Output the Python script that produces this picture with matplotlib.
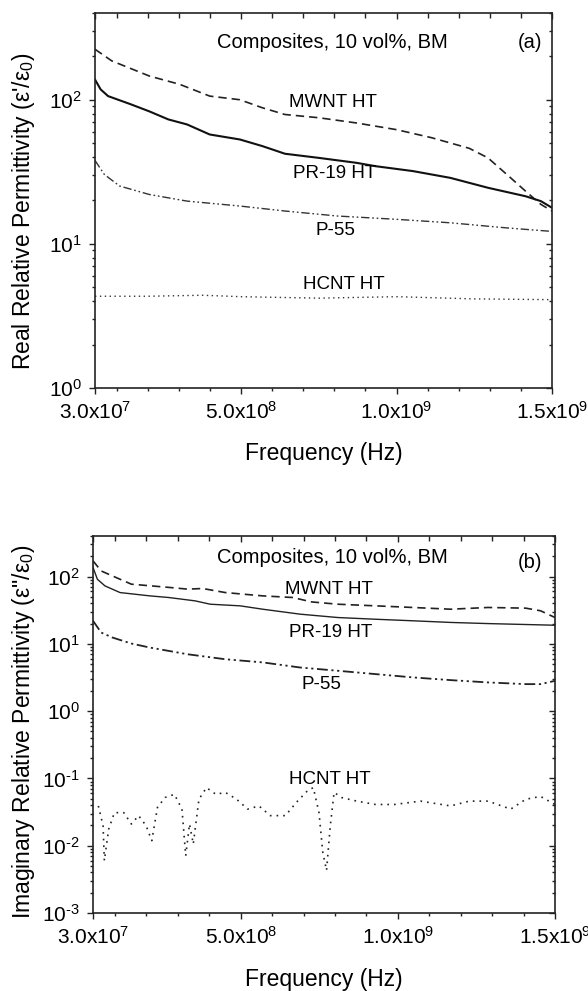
import math
import matplotlib
matplotlib.use("Agg")
import matplotlib.pyplot as plt
from matplotlib.ticker import MultipleLocator, LogLocator, NullFormatter, FuncFormatter

plt.rcParams['font.family'] = ['Liberation Sans', 'DejaVu Sans']
plt.rcParams['mathtext.fontset'] = 'custom'
plt.rcParams['mathtext.rm'] = 'Liberation Sans'
plt.rcParams['mathtext.it'] = 'Liberation Sans:italic'
plt.rcParams['axes.unicode_minus'] = False

# ---- panel (a): real relative permittivity, frequency in MHz ----
mwnt_a_f = [30, 84, 205, 302, 399, 496, 568, 641, 750, 871, 1000, 1113, 1234, 1294, 1367, 1415, 1464, 1500]
mwnt_a_v = [224, 186, 146, 128, 106, 100, 88, 79, 75, 69, 62, 54.5, 46, 39.5, 28.7, 23.2, 18.8, 16.9]

pr19_a_f = [30, 48, 72, 145, 205, 266, 326, 399, 496, 568, 641, 750, 871, 932, 1052, 1173, 1294, 1415, 1464, 1500]
pr19_a_v = [138, 118, 106, 93, 83, 73, 67.4, 57.4, 53, 47.7, 42.2, 39.5, 36.5, 34.6, 32, 28.7, 24.5, 21.4, 19.8, 17.8]

p55_a_f = [30, 60, 109, 205, 326, 496, 641, 810, 1000, 1173, 1355, 1500]
p55_a_v = [37.9, 30.3, 25.2, 22, 19.8, 18.3, 16.9, 15.6, 14.8, 14, 12.9, 12.2]

hcnt_a_f = [30, 200, 375, 500, 750, 1000, 1250, 1500]
hcnt_a_v = [4.33, 4.33, 4.4, 4.3, 4.2, 4.3, 4.15, 4.1]

# ---- panel (b): imaginary relative permittivity ----
mwnt_b_f = [30, 56, 92, 152, 271, 331, 379, 451, 570, 666, 725, 809, 929, 1048, 1168, 1287, 1407, 1454, 1500]
mwnt_b_v = [171, 121, 102, 77, 69, 65, 66.4, 57.8, 51.6, 48.8, 42, 38.8, 36.7, 34.7, 32.7, 34.7, 33.9, 31, 24.6]

pr19_b_f = [30, 44, 68, 116, 211, 271, 355, 403, 498, 570, 689, 809, 929, 1048, 1168, 1287, 1500]
pr19_b_v = [136, 91, 72.6, 57.8, 51.6, 48.8, 43.5, 38.8, 36.7, 32.7, 27.6, 24.6, 23.2, 22, 20.8, 20, 18.9]

p55_b_f = [30, 56, 92, 152, 211, 331, 451, 570, 689, 809, 929, 1048, 1168, 1287, 1407, 1454, 1500]
p55_b_v = [22, 14.7, 12.4, 10.1, 8.8, 7.0, 5.9, 5.3, 4.45, 3.98, 3.55, 3.17, 2.89, 2.67, 2.52, 2.52, 2.82]

hcnt_b_f = [47, 62, 66, 80, 98, 128, 152, 175, 199, 217, 235, 259, 289, 313, 325, 337, 349, 367, 391, 421,
            451, 487, 522, 558, 594, 642, 677, 713, 731, 749, 761, 773, 785, 797, 821, 869, 929, 989, 1072,
            1168, 1227, 1287, 1359, 1407, 1454, 1500]
hcnt_b_v = [0.039, 0.0198, 0.006, 0.0177, 0.031, 0.031, 0.021, 0.028, 0.0198, 0.0119, 0.037, 0.052, 0.058,
            0.035, 0.0071, 0.021, 0.0106, 0.049, 0.073, 0.058, 0.062, 0.049, 0.035, 0.039, 0.028, 0.028,
            0.044, 0.066, 0.073, 0.031, 0.008, 0.0043, 0.0198, 0.062, 0.052, 0.046, 0.041, 0.041, 0.046,
            0.039, 0.046, 0.046, 0.035, 0.049, 0.054, 0.041]

xticks = [3e7, 5e8, 1e9, 1.5e9]
xtick_labels = ['3.0x10$^{7}$', '5.0x10$^{8}$', '1.0x10$^{9}$', '1.5x10$^{9}$']

DASH = (5, 3)
DASHDOTDOT = (6, 2, 1.2, 2, 1.2, 2)
DOT = (1, 2.5)
INK = '#222222'


def hz(f):
    return [v * 1e6 for v in f]


def pow10_label(v, pos):
    e = int(round(math.log10(v)))
    if e < 0:
        return '10$^{\\text{-}%d}$' % (-e)
    return '10$^{%d}$' % e


def style_axes(ax, ylim, ylabel, label_xy):
    ax.set_yscale('log')
    ax.set_xlim(3e7, 1.5e9)
    ax.set_ylim(*ylim)
    ax.set_xticks(xticks)
    ax.set_xticklabels(xtick_labels)
    ax.xaxis.set_minor_locator(MultipleLocator(1e8))
    ax.yaxis.set_major_locator(LogLocator(base=10, numticks=20))
    ax.yaxis.set_minor_locator(LogLocator(base=10, subs=range(2, 10), numticks=20))
    ax.yaxis.set_major_formatter(FuncFormatter(pow10_label))
    ax.yaxis.set_minor_formatter(NullFormatter())
    ax.tick_params(which='both', direction='out', top=False, right=False,
                   labelsize=15, width=1, color=INK, pad=5)
    ax.tick_params(which='major', length=4.5)
    ax.tick_params(which='minor', length=2.5)
    ax.set_xlabel('Frequency (Hz)', fontsize=16.5)
    ax.xaxis.set_label_coords(0.5, -0.145)
    ax.set_ylabel(ylabel, fontsize=16.5)
    ax.yaxis.set_label_coords(*label_xy)
    for s in ax.spines.values():
        s.set_linewidth(1.2)
        s.set_color(INK)
    # mirror ticks on top and right, pointing inward
    top = ax.secondary_xaxis('top')
    top.set_xticks(xticks)
    top.xaxis.set_minor_locator(MultipleLocator(1e8))
    top.tick_params(which='both', direction='in', labeltop=False, width=1, color=INK)
    top.tick_params(which='major', length=4.5)
    top.tick_params(which='minor', length=3.5)
    right = ax.secondary_yaxis('right')
    right.yaxis.set_major_locator(LogLocator(base=10, numticks=20))
    right.yaxis.set_minor_locator(LogLocator(base=10, subs=range(2, 10), numticks=20))
    right.tick_params(which='both', direction='in', labelright=False, width=1, color=INK)
    right.tick_params(which='major', length=4.5)
    right.tick_params(which='minor', length=2.5)
    for s in list(top.spines.values()) + list(right.spines.values()):
        s.set_visible(False)


def note(ax, x, y, s, size=13.5):
    ax.text(x, y, s, transform=ax.transAxes, fontsize=size, ha='center', va='center')


fig = plt.figure(figsize=(5.88, 9.91), dpi=100)
ax_a = fig.add_axes([0.1616, 0.6085, 0.7772, 0.3784])
ax_b = fig.add_axes([0.1582, 0.0787, 0.7857, 0.3804])

# panel (a)
ax_a.plot(hz(mwnt_a_f), mwnt_a_v, color=INK, lw=1.2, dashes=DASH)
ax_a.plot(hz(pr19_a_f), pr19_a_v, color='#111111', lw=1.5)
ax_a.plot(hz(p55_a_f), p55_a_v, color='#333333', lw=1.0, dashes=DASHDOTDOT)
ax_a.plot(hz(hcnt_a_f), hcnt_a_v, color='#333333', lw=1.0, dashes=DOT)
style_axes(ax_a, (1, 400), "Real Relative Permittivity (ε'/ε$_0$)", (-0.127, 0.47))
note(ax_a, 0.519, 0.92, 'Composites, 10 vol%, BM', 14.5)
note(ax_a, 0.952, 0.92, '(a)', 14.5)
note(ax_a, 0.521, 0.76, 'MWNT HT')
note(ax_a, 0.525, 0.573, 'PR-19 HT')
note(ax_a, 0.527, 0.421, 'P-55')
note(ax_a, 0.545, 0.275, 'HCNT HT')

# panel (b)
ax_b.plot(hz(mwnt_b_f), mwnt_b_v, color=INK, lw=1.2, dashes=DASH)
ax_b.plot(hz(pr19_b_f), pr19_b_v, color=INK, lw=1.0)
ax_b.plot(hz(p55_b_f), p55_b_v, color=INK, lw=1.3, dashes=DASHDOTDOT)
ax_b.plot(hz(hcnt_b_f), hcnt_b_v, color=INK, lw=1.2, dashes=(1, 3))
style_axes(ax_b, (1e-3, 400), 'Imaginary Relative Permittivity (ε"/ε$_0$)', (-0.121, 0.48))
note(ax_b, 0.519, 0.942, 'Composites, 10 vol%, BM', 14.5)
note(ax_b, 0.946, 0.93, '(b)', 14.5)
note(ax_b, 0.511, 0.857, 'MWNT HT')
note(ax_b, 0.515, 0.745, 'PR-19 HT')
note(ax_b, 0.494, 0.605, 'P-55')
note(ax_b, 0.513, 0.353, 'HCNT HT')

fig.savefig('out.png', dpi=100)
